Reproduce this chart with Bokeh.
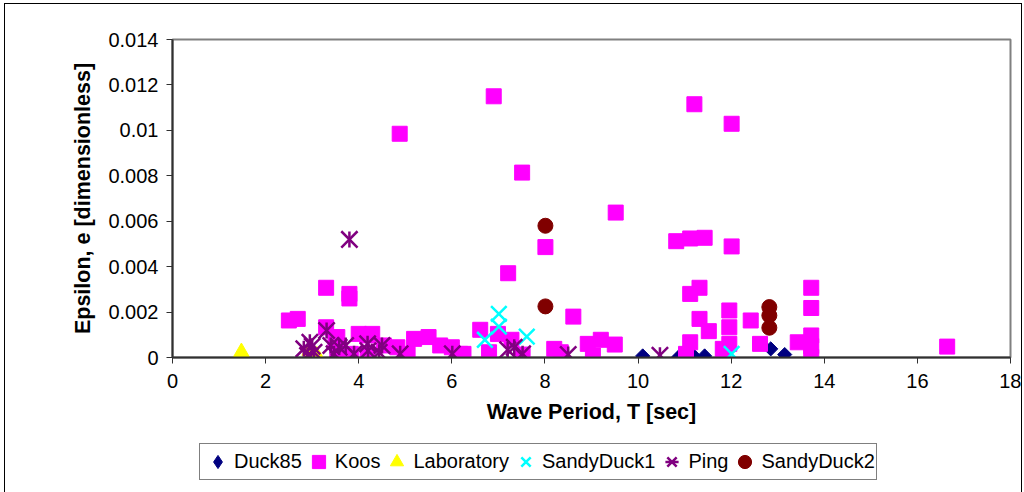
import math
from bokeh.plotting import figure
from bokeh.layouts import column
from bokeh.models import FixedTicker, Legend, LegendItem
from bokeh.embed import file_html
from bokeh.resources import INLINE

# ---- data ----
duck85_T = [10.1, 10.88, 11.21, 11.43, 12.85, 13.15]
duck85_e = [0.00007, 0.00004, 0.00004, 0.00007, 0.00038, 0.00013]

koos_T = [2.5, 2.69, 3.3, 3.8, 3.8, 3.3, 3.54, 3.5, 3.54, 3.83, 4.0, 4.29, 4.19, 4.18, 4.54,
          4.83, 5.05, 5.19, 5.5, 5.75, 6.0, 6.18, 4.88, 6.9, 7.51, 8.01, 7.21, 9.52, 10.82,
          11.12, 11.43, 12.01, 11.21, 12.01, 8.61, 11.32, 11.12, 11.32, 11.96, 12.42, 11.52,
          11.12, 11.03, 11.96, 11.96, 11.82, 12.62, 13.72, 13.72, 13.72, 13.72, 13.72, 13.43,
          16.64, 6.61, 6.99, 7.28, 6.8, 7.52, 6.25, 8.2, 8.34, 8.92, 9.2, 9.5, 9.03]
koos_e = [0.00163, 0.0017, 0.00307, 0.0028, 0.0026, 0.00133, 0.0009, 0.00075, 0.0002, 0.00016,
          0.00104, 0.00104, 0.00016, 0.00097, 0.00053, 0.00045, 0.00016, 0.00082, 0.0009,
          0.00053, 0.00045, 0.00016, 0.00985, 0.0115, 0.00814, 0.00486, 0.00371, 0.00638,
          0.00512, 0.00524, 0.00527, 0.00489, 0.01115, 0.01029, 0.0018, 0.00307, 0.0028,
          0.0017, 0.00207, 0.00163, 0.00116, 0.00067, 0.00016, 0.00133, 0.0006, 0.00038,
          0.0006, 0.00307, 0.00218, 0.00097, 0.0005, 0.00002, 0.00067, 0.00048, 0.00122,
          0.00104, 0.00078, 0.00023, 0.00013, 0.00016, 0.00038, 0.00023, 0.0006, 0.00078,
          0.00057, 0.00009]

lab_T = [1.48, 3.1, 2.95]
lab_e = [0.00023, 0.00008, 0.0003]

sd1_T = [7.01, 7.01, 6.71, 7.61, 12.01]
sd1_e = [0.00192, 0.00136, 0.00078, 0.00092, 0.00016]

ping_T = [3.8, 3.31, 2.82, 2.95, 2.9, 3.04, 3.4, 3.47, 3.58, 3.72, 3.9, 4.19, 4.5, 4.44,
          4.89, 6.01, 7.2, 7.34, 7.52, 8.5, 10.47, 3.0, 4.2]
ping_e = [0.0052, 0.00119, 0.00038, 0.00067, 0.00009, 0.00023, 0.00053, 0.00016, 0.00045,
          0.00053, 0.00016, 0.0006, 0.00053, 0.00023, 0.00016, 0.00016, 0.00034, 0.00045,
          0.00016, 0.00013, 0.0001, 0.0005, 0.0003]

sd2_T = [8.01, 8.01, 12.82, 12.82, 12.82]
sd2_e = [0.0058, 0.00225, 0.00222, 0.00185, 0.00131]

series_names = ["Duck85", "Koos", "Laboratory", "SandyDuck1", "Ping", "SandyDuck2"]

x_ticks = [0, 2, 4, 6, 8, 10, 12, 14, 16, 18]
y_ticks = [0, 0.002, 0.004, 0.006, 0.008, 0.01, 0.012, 0.014]
y_tick_labels = ["0", "0.002", "0.004", "0.006", "0.008", "0.01", "0.012", "0.014"]

FONT = "Liberation Sans"

STYLE = {
    "Duck85": dict(marker="square", angle=math.pi / 4, size=10, fill_color="#000080", line_color="#000080"),
    "Koos": dict(marker="square", size=15, fill_color="#FF00FF", line_color="#FF00FF"),
    "Laboratory": dict(marker="triangle", size=16, fill_color="#FFFF00", line_color="#FFFF00"),
    "SandyDuck1": dict(marker="x", size=22, line_color="#00FFFF", line_width=2.5),
    "Ping_x": dict(marker="x", size=23, line_color="#800080", line_width=2.5),
    "Ping_bar": dict(marker="dash", angle=math.pi / 2, size=16, line_color="#800080", line_width=2.5),
    "SandyDuck2": dict(marker="circle", size=15, fill_color="#800000", line_color="#800000"),
}
# legend glyph sizes are set by the legend box (0.4 x glyph box); only shape/colour matter here
LEG_STYLE = {
    "Duck85": dict(marker="diamond", size=14, fill_color="#000080", line_color="#000080"),
    "Koos": dict(marker="square", size=14, fill_color="#FF00FF", line_color="#FF00FF"),
    "Laboratory": dict(marker="triangle", size=15, fill_color="#FFFF00", line_color="#FFFF00"),
    "SandyDuck1": dict(marker="x", size=19, line_color="#00FFFF", line_width=2.5),
    "Ping_x": dict(marker="x", size=19, line_color="#800080", line_width=2.5),
    "Ping_bar": dict(marker="dash", angle=math.pi / 2, size=14, line_color="#800080", line_width=2.5),
    "SandyDuck2": dict(marker="circle", size=14, fill_color="#800000", line_color="#800000"),
}

# ---- main chart ----
p = figure(width=1016, height=436, x_range=(0, 18), y_range=(0, 0.014),
           output_backend="svg", toolbar_location=None,
           min_border_left=167, min_border_right=11, min_border_top=35, min_border_bottom=83)

p.xgrid.visible = False
p.ygrid.visible = False
p.outline_line_color = "#808080"
p.outline_line_width = 2
p.background_fill_color = "white"
p.border_fill_color = "white"

p.xaxis.ticker = FixedTicker(ticks=x_ticks)
p.yaxis.ticker = FixedTicker(ticks=y_ticks)
p.yaxis.major_label_overrides = {t: l for t, l in zip(y_ticks, y_tick_labels)}
for ax in (p.xaxis[0], p.yaxis[0]):
    ax.axis_line_color = "#303030"
    ax.axis_line_width = 2
    ax.major_tick_line_color = "#303030"
    ax.major_tick_out = 6
    ax.major_tick_in = 0
    ax.minor_tick_out = 0
    ax.minor_tick_in = 0
    ax.major_label_text_font = FONT
    ax.major_label_text_font_size = "20px"
    ax.major_label_text_color = "black"
    ax.axis_label_text_font = FONT
    ax.axis_label_text_font_style = "bold"
    ax.axis_label_text_font_size = "21.5px"
    ax.axis_label_text_color = "black"
p.xaxis.major_label_standoff = 10
p.yaxis.major_label_standoff = 8
p.xaxis.axis_label = "Wave Period, T [sec]"
p.yaxis.axis_label = "Epsilon, e [dimensionless]"
p.xaxis.axis_label_standoff = 9
p.yaxis.axis_label_standoff = 10

p.scatter(duck85_T, duck85_e, **STYLE["Duck85"])
p.scatter(koos_T, koos_e, **STYLE["Koos"])
p.scatter(lab_T, lab_e, **STYLE["Laboratory"])
p.scatter(sd1_T, sd1_e, **STYLE["SandyDuck1"])
p.scatter(ping_T, ping_e, **STYLE["Ping_x"])
p.scatter(ping_T, ping_e, **STYLE["Ping_bar"])
p.scatter(sd2_T, sd2_e, **STYLE["SandyDuck2"])

# ---- legend strip (frame is aligned with the main chart's frame by the column) ----
q = figure(width=1016, height=53, x_range=(0, 1), y_range=(0, 1),
           output_backend="svg", toolbar_location=None,
           x_axis_type=None, y_axis_type=None,
           min_border_left=0, min_border_right=0, min_border_top=0, min_border_bottom=0)
q.xgrid.visible = False
q.ygrid.visible = False
q.outline_line_color = None
q.background_fill_color = "white"
q.border_fill_color = "white"

leg_r = {}
for key in ["Duck85", "Koos", "Laboratory", "SandyDuck1", "Ping_x", "Ping_bar", "SandyDuck2"]:
    leg_r[key] = q.scatter([-5], [-5], **LEG_STYLE[key])

items = []
for name in series_names:
    rs = [leg_r["Ping_x"], leg_r["Ping_bar"]] if name == "Ping" else [leg_r[name]]
    items.append(LegendItem(label=name, renderers=rs))

legend = Legend(items=items, orientation="horizontal", location=(27, 13))
legend.border_line_color = "black"
legend.border_line_width = 1
legend.background_fill_color = "white"
legend.background_fill_alpha = 1
legend.label_text_font = FONT
legend.label_text_font_size = "20px"
legend.label_text_color = "black"
legend.label_height = 20
legend.glyph_width = 33
legend.glyph_height = 33
legend.label_standoff = 0
legend.spacing = 0
legend.padding = 1
legend.margin = 0
q.add_layout(legend, "center")

layout = column(p, q, spacing=0)
layout.styles = {"border-left": "1px solid black", "border-top": "1px solid black",
                 "border-right": "1px solid black", "margin-left": "4px", "margin-top": "3px"}

open("out.html", "w").write(file_html(layout, INLINE))
